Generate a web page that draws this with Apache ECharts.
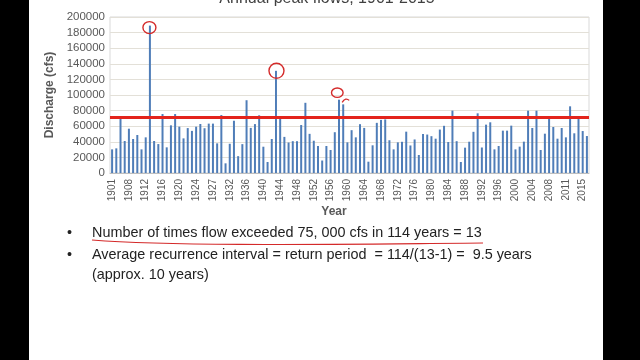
<!DOCTYPE html>
<html><head><meta charset="utf-8">
<script src="https://cdn.jsdelivr.net/npm/echarts@6/dist/echarts.min.js"></script>
<style>
html,body{margin:0;padding:0;background:#000;width:640px;height:360px;overflow:hidden}
#slide{position:absolute;left:29px;top:0;width:574px;height:360px;background:#fff}
#chart{position:absolute;left:0;top:0;width:640px;height:360px}
</style></head><body>
<div id="slide"></div><div id="chart"></div>
<script>
// Year categories as printed on the axis (every 4th label shown)
const years = ['1901','1905','1906','1907','1908','1909','1910','1911','1912','1913','1914','1915','1916','1917','1918','1919','1920','1921','1922','1923','1924','1925','1926','1926','1927','1928','1929','1930','1932','1933','1934','1935','1936','1937','1938','1939','1940','1941','1942','1943','1944','1945','1946','1947','1948','1949','1950','1951','1952','1953','1954','1955','1956','1957','1958','1959','1960','1961','1962','1963','1964','1965','1966','1967','1968','1969','1970','1971','1972','1973','1974','1975','1976','1977','1978','1979','1980','1981','1982','1983','1984','1985','1986','1987','1988','1989','1990','1991','1992','1993','1994','1995','1996','1997','1998','1999','2000','2001','2002','2003','2004','2005','2006','2007','2008','2009','2010','2010','2011','2012','2013','2014','2015','2015'];

// Annual peak discharge (cfs)
const discharge = [30300,31600,69500,41000,56800,43600,48700,30300,45700,189000,
41000,37100,75600,32900,61100,75600,59400,44400,57600,54000,
59400,62800,57400,63300,63300,38000,74300,12400,37500,67000,
21600,37000,93300,57800,62700,74000,33700,14100,43600,131000,
71000,46300,39100,40800,40800,61500,90000,50200,41400,34600,
16000,34600,29500,52300,94000,88000,39300,54900,45700,62600,
57800,14500,35500,64300,68100,68700,42000,30300,39300,40000,
53000,35300,43000,23100,50000,49300,47200,44000,55700,60500,
39700,80000,40800,14100,32500,40100,52800,76500,32700,62000,
65000,30300,34600,54300,54300,60700,30300,33800,40200,79900,
57700,79900,29500,50400,71400,59000,44000,57700,45700,85500,
50900,69200,53800,47400];

const thresholdLine = 72000;
const yMin = 0, yMax = 200000, yStep = 20000;
const circledIdx = [9, 39, 54];

const titleText = 'Annual peak flows, 1901-2015';
const bulletLines = [
  'Number of times flow exceeded 75, 000 cfs in 114 years = 13',
  'Average recurrence interval = return period  = 114/(13-1) =  9.5 years',
  '(approx. 10 years)'
];

const FONT = '"Liberation Sans", Arial, sans-serif';
const chart = echarts.init(document.getElementById('chart'), null, {renderer: 'canvas'});

const option = {
  backgroundColor: 'transparent',
  animation: false,
  grid: {left: 110, right: 51, top: 17, bottom: 187, containLabel: false,
         show: true, borderColor: '#d9d9d9', borderWidth: 1, backgroundColor: 'transparent'},
  xAxis: {
    type: 'category', data: years, boundaryGap: true,
    name: 'Year', nameLocation: 'middle', nameGap: 33,
    nameTextStyle: {fontFamily: FONT, fontSize: 12, fontWeight: 'bold', color: '#595959', padding: [0, 31, 0, 0]},
    axisLine: {show: true, lineStyle: {color: '#bfbfbf', width: 1}},
    axisTick: {show: false},
    axisLabel: {interval: 3, rotate: 90, fontFamily: FONT, fontSize: 10, color: '#595959', margin: 6},
    splitLine: {show: false}
  },
  yAxis: {
    type: 'value', min: yMin, max: yMax, interval: yStep,
    name: 'Discharge (cfs)', nameLocation: 'middle', nameGap: 49,
    nameTextStyle: {fontFamily: FONT, fontSize: 12, fontWeight: 'bold', color: '#595959'},
    axisLine: {show: false}, axisTick: {show: false},
    axisLabel: {fontFamily: FONT, fontSize: 11.5, color: '#595959', margin: 5, formatter: v => String(v)},
    splitLine: {show: true, lineStyle: {color: '#e3e0d8', width: 1}}
  },
  series: [{
    type: 'bar', data: discharge, barWidth: 2,
    itemStyle: {color: '#4f7db8'},
    markLine: {
      silent: true, symbol: ['none', 'none'],
      label: {show: false},
      lineStyle: {color: '#e3241b', width: 3, type: 'solid'},
      data: [{yAxis: thresholdLine}]
    }
  }]
};
chart.setOption(option);

// Annotations (hand-drawn circles) positioned from data via the chart's scales
const g = [];
const circleSpec = {
  9:  {dx: -0.5, dy: 2,  rx: 6.5, ry: 6},
  39: {dx: 0.5,  dy: 0,  rx: 7.5, ry: 7.5},
  54: {dx: -1.7, dy: -7, rx: 5.8, ry: 4.7}
};
circledIdx.forEach(i => {
  const p = chart.convertToPixel({seriesIndex: 0}, [i, discharge[i]]);
  const s = circleSpec[i];
  g.push({type: 'ellipse', z: 100,
    shape: {cx: p[0] + s.dx, cy: p[1] + s.dy, rx: s.rx, ry: s.ry},
    style: {fill: 'none', stroke: '#d42a2a', lineWidth: 1.4}});
});
const p55 = chart.convertToPixel({seriesIndex: 0}, [55, discharge[55]]);
g.push({type: 'bezierCurve', z: 100,
  shape: {x1: p55[0] - 1, y1: p55[1] - 2, cpx1: p55[0] + 1, cpy1: p55[1] - 6, cpx2: p55[0] + 4, cpy2: p55[1] - 6, x2: p55[0] + 6, y2: p55[1] - 4},
  style: {fill: 'none', stroke: '#d42a2a', lineWidth: 1.3}});

// title (cut by the top of the frame)
g.push({type: 'text', z: 100, style: {x: 327, y: 7, text: titleText, align: 'center', verticalAlign: 'bottom',
  font: '16px ' + FONT, fill: '#404040'}});

// bullets
const textFont = '14.4px ' + FONT;
const lineY = [233, 255.5, 275];
g.push({type: 'text', z: 100, style: {x: 67, y: lineY[0], text: '•', font: textFont, fill: '#222', verticalAlign: 'middle'}});
g.push({type: 'text', z: 100, style: {x: 67, y: lineY[1], text: '•', font: textFont, fill: '#222', verticalAlign: 'middle'}});
bulletLines.forEach((t, k) => {
  g.push({type: 'text', z: 100, style: {x: 92, y: lineY[k], text: t, font: textFont, fill: '#222', verticalAlign: 'middle'}});
});
// red underline under first bullet
g.push({type: 'bezierCurve', z: 100,
  shape: {x1: 92, y1: 240, cpx1: 180, cpy1: 247, cpx2: 350, cpy2: 244, x2: 483, y2: 243},
  style: {fill: 'none', stroke: '#d42a2a', lineWidth: 1.2}});

chart.setOption({graphic: {elements: g}});
</script>
</body></html>
